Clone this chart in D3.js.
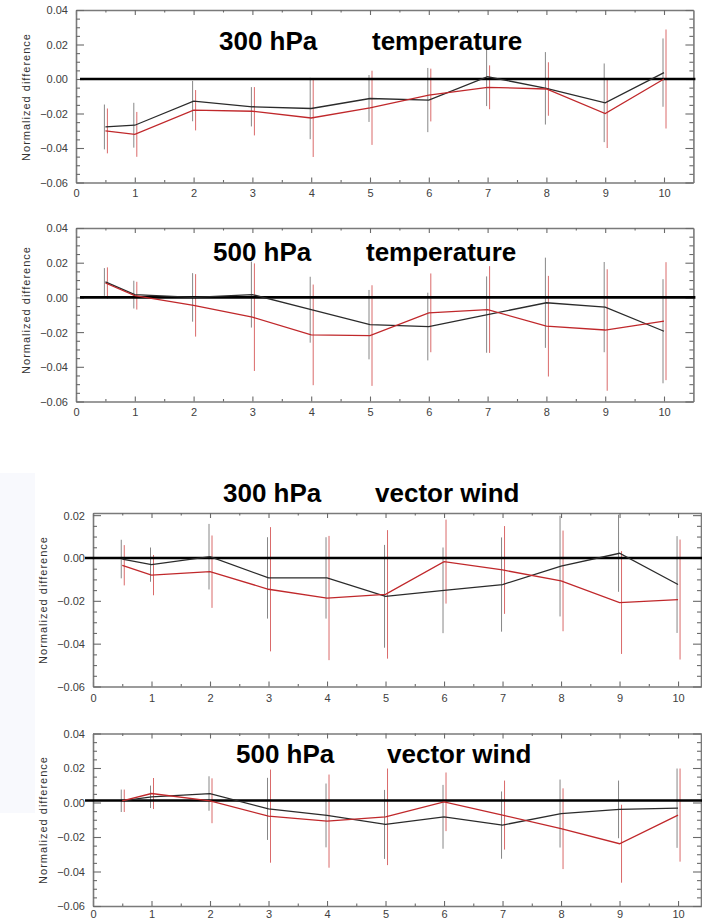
<!DOCTYPE html>
<html>
<head>
<meta charset="utf-8">
<script src="https://cdn.jsdelivr.net/npm/d3@7"></script>
<style>
  html, body { margin: 0; padding: 0; background: #fff; }
  svg { display: block; }
</style>
</head>
<body>
<svg id="chart" width="702" height="923"></svg>
<script>
// ---------------- DATA ----------------
const leadTimes = [0.5, 1, 2, 3, 4, 5, 6, 7, 8, 9, 10];
const xTickValues = [0, 1, 2, 3, 4, 5, 6, 7, 8, 9, 10];
const yLabel = "Normalized difference";
const levelTitles = ["300 hPa", "500 hPa", "300 hPa", "500 hPa"];
const variableTitles = ["temperature", "temperature", "vector wind", "vector wind"];

// 300 hPa temperature
const t300Black    = [-0.0278, -0.0268, -0.0128, -0.0161, -0.0171, -0.0113, -0.0122, 0.0013, -0.0054, -0.0138, 0.0037];
const t300Red      = [-0.0301, -0.0321, -0.0181, -0.0187, -0.0226, -0.0167, -0.0093, -0.0048, -0.0058, -0.0200, 0.0000];
const t300BlackErr = [0.0130, 0.0130, 0.0117, 0.0114, 0.0178, 0.0136, 0.0186, 0.0170, 0.0210, 0.0228, 0.0198];
const t300RedErr   = [0.0130, 0.0130, 0.0117, 0.0140, 0.0226, 0.0215, 0.0153, 0.0127, 0.0155, 0.0200, 0.0287];

// 500 hPa temperature
const t500Black    = [0.0089, 0.0016, 0.0000, 0.0016, -0.0071, -0.0157, -0.0168, -0.0099, -0.0031, -0.0056, -0.0195];
const t500Red      = [0.0083, 0.0010, -0.0046, -0.0114, -0.0216, -0.0220, -0.0089, -0.0070, -0.0166, -0.0188, -0.0137];
const t500BlackErr = [0.0080, 0.0080, 0.0140, 0.0190, 0.0190, 0.0200, 0.0195, 0.0220, 0.0260, 0.0260, 0.0300];
const t500RedErr   = [0.0090, 0.0080, 0.0180, 0.0310, 0.0290, 0.0290, 0.0227, 0.0250, 0.0290, 0.0350, 0.0340];

// 300 hPa vector wind
const w300Black    = [-0.0005, -0.0031, 0.0006, -0.0093, -0.0093, -0.0179, -0.0151, -0.0124, -0.0038, 0.0022, -0.0124];
const w300Red      = [-0.0034, -0.0080, -0.0064, -0.0146, -0.0187, -0.0170, -0.0017, -0.0056, -0.0107, -0.0208, -0.0194];
const w300BlackErr = [0.0090, 0.0080, 0.0153, 0.0190, 0.0190, 0.0240, 0.0200, 0.0220, 0.0235, 0.0180, 0.0226];
const w300RedErr   = [0.0094, 0.0094, 0.0169, 0.0290, 0.0290, 0.0300, 0.0196, 0.0205, 0.0235, 0.0240, 0.0280];

// 500 hPa vector wind
const w500Black    = [0.0010, 0.0033, 0.0052, -0.0037, -0.0075, -0.0127, -0.0083, -0.0131, -0.0064, -0.0040, -0.0033];
const w500Red      = [0.0010, 0.0052, 0.0010, -0.0079, -0.0108, -0.0083, 0.0004, -0.0073, -0.0152, -0.0239, -0.0073];
const w500BlackErr = [0.0065, 0.0065, 0.0100, 0.0180, 0.0185, 0.0200, 0.0185, 0.0195, 0.0197, 0.0167, 0.0230];
const w500RedErr   = [0.0065, 0.0090, 0.0130, 0.0270, 0.0270, 0.0280, 0.0170, 0.0200, 0.0234, 0.0226, 0.0270];

// ---------------- LAYOUT ----------------
const panels = [
  { black: t300Black, red: t300Red, bErr: t300BlackErr, rErr: t300RedErr,
    x0: 76, x1: 693.4, y0: 182.5, y1: 10, yMin: -0.06, yMax: 0.04,
    yTicks: [-0.06, -0.04, -0.02, 0, 0.02, 0.04], xPad: 7,
    levelPos: [219, 50], varPos: [372, 50], yLabelX: 30, yLabelY: 97 },
  { black: t500Black, red: t500Red, bErr: t500BlackErr, rErr: t500RedErr,
    x0: 76, x1: 693.4, y0: 401.5, y1: 228, yMin: -0.06, yMax: 0.04,
    yTicks: [-0.06, -0.04, -0.02, 0, 0.02, 0.04], xPad: 7,
    levelPos: [213, 261], varPos: [366, 261], yLabelX: 30, yLabelY: 310 },
  { black: w300Black, red: w300Red, bErr: w300BlackErr, rErr: w300RedErr,
    x0: 93, x1: 707.3, y0: 686.5, y1: 513, yMin: -0.06, yMax: 0.021,
    yTicks: [-0.06, -0.04, -0.02, 0, 0.02], xPad: 8,
    levelPos: [223, 502], varPos: [375, 502], yLabelX: 47, yLabelY: 600 },
  { black: w500Black, red: w500Red, bErr: w500BlackErr, rErr: w500RedErr,
    x0: 93, x1: 707.3, y0: 906, y1: 733.5, yMin: -0.06, yMax: 0.04,
    yTicks: [-0.06, -0.04, -0.02, 0, 0.02, 0.04], xPad: 4,
    levelPos: [236, 763], varPos: [387, 763], yLabelX: 47, yLabelY: 820 }
];

const svg = d3.select("#chart");
const FONT = "'Liberation Sans', Arial, Helvetica, sans-serif";

// faint background patch on the left of the lower panels
svg.append("rect").attr("x", 0).attr("y", 473).attr("width", 35).attr("height", 340)
  .attr("fill", "#f8f9fd");

panels.forEach((p, i) => {
  const x = d3.scaleLinear().domain([0, 10.5]).range([p.x0, p.x1]);
  const y = d3.scaleLinear().domain([p.yMin, p.yMax]).range([p.y0, p.y1]);
  const g = svg.append("g");
  const frameRight = Math.min(p.x1, 701);

  const xMinor = d3.range(0.5, 10.5, 1);
  const yMinor = d3.range(-0.06, p.yMax + 1e-9, 0.005).filter(v => Math.abs(Math.round(v / 0.02) * 0.02 - v) > 1e-6);

  const axisStyle = sel => {
    sel.selectAll("path.domain").attr("stroke", "#7a7a7a").attr("stroke-width", 1.6);
    sel.selectAll(".tick line").attr("stroke", "#6a6a6a").attr("stroke-width", 1.1);
    sel.selectAll(".tick text").attr("fill", "#404040").style("font-family", FONT).style("font-size", "11px");
  };

  // bottom axis
  g.append("g").attr("transform", `translate(0,${p.y0})`)
    .call(d3.axisBottom(x).tickValues(xTickValues).tickFormat(d3.format("d"))
      .tickSizeInner(-5).tickSizeOuter(0).tickPadding(p.xPad))
    .call(axisStyle);
  g.append("g").attr("transform", `translate(0,${p.y0})`)
    .call(d3.axisBottom(x).tickValues(xMinor).tickFormat("").tickSizeInner(-2.5).tickSizeOuter(0))
    .call(axisStyle).call(s => s.select("path.domain").remove());
  // top axis
  g.append("g").attr("transform", `translate(0,${p.y1})`)
    .call(d3.axisTop(x).tickValues(xTickValues).tickFormat("").tickSizeInner(-5).tickSizeOuter(0))
    .call(axisStyle);
  g.append("g").attr("transform", `translate(0,${p.y1})`)
    .call(d3.axisTop(x).tickValues(xMinor).tickFormat("").tickSizeInner(-2.5).tickSizeOuter(0))
    .call(axisStyle).call(s => s.select("path.domain").remove());

  // left axis
  g.append("g").attr("transform", `translate(${p.x0},0)`)
    .call(d3.axisLeft(y).tickValues(p.yTicks).tickFormat(d3.format(".2f"))
      .tickSizeInner(-8).tickSizeOuter(0).tickPadding(8))
    .call(axisStyle)
    .call(s => s.selectAll(".tick text").attr("dy", "0.36em"));
  g.append("g").attr("transform", `translate(${p.x0},0)`)
    .call(d3.axisLeft(y).tickValues(yMinor).tickFormat("").tickSizeInner(-4).tickSizeOuter(0))
    .call(axisStyle).call(s => s.select("path.domain").remove());
  // right axis
  g.append("g").attr("transform", `translate(${frameRight},0)`)
    .call(d3.axisRight(y).tickValues(p.yTicks).tickFormat("").tickSizeInner(-8).tickSizeOuter(0))
    .call(axisStyle);
  g.append("g").attr("transform", `translate(${frameRight},0)`)
    .call(d3.axisRight(y).tickValues(yMinor).tickFormat("").tickSizeInner(-4).tickSizeOuter(0))
    .call(axisStyle).call(s => s.select("path.domain").remove());

  // y label
  g.append("text")
    .attr("transform", `translate(${p.yLabelX},${p.yLabelY}) rotate(-90)`)
    .attr("text-anchor", "middle")
    .attr("fill", "#333")
    .style("font-family", FONT).style("font-size", "11px").style("letter-spacing", "1px")
    .text(yLabel);

  // error bars
  const series = [
    { vals: p.black, err: p.bErr, bar: "#727272", line: "#2b2b2b", dx: -1 },
    { vals: p.red, err: p.rErr, bar: "#d45050", line: "#c0282b", dx: 2 }
  ];
  series.forEach(s => {
    g.append("g").selectAll("line")
      .data(leadTimes.map((t, k) => ({ t, v: s.vals[k], e: s.err[k] })))
      .join("line")
      .attr("x1", d => x(d.t) + s.dx).attr("x2", d => x(d.t) + s.dx)
      .attr("y1", d => y(d.v - d.e)).attr("y2", d => y(d.v + d.e))
      .attr("stroke", s.bar).attr("stroke-width", 1).attr("stroke-opacity", 0.85);
  });

  // zero line
  g.append("line")
    .attr("x1", p.x0 + (i >= 2 ? -8 : 4)).attr("x2", frameRight + 2)
    .attr("y1", y(0) - (i === 3 ? 2 : 0)).attr("y2", y(0) - (i === 3 ? 2 : 0))
    .attr("stroke", "#000").attr("stroke-width", 2.6);

  // data lines
  series.forEach(s => {
    g.append("path")
      .datum(leadTimes.map((t, k) => [t, s.vals[k]]))
      .attr("fill", "none").attr("stroke", s.line).attr("stroke-width", 1.3)
      .attr("d", d3.line().x(d => x(d[0])).y(d => y(d[1])));
  });

  // titles
  g.append("text").attr("x", p.levelPos[0]).attr("y", p.levelPos[1])
    .style("font-family", FONT).style("font-weight", "bold").style("font-size", "26px")
    .attr("fill", "#000").text(levelTitles[i]);
  g.append("text").attr("x", p.varPos[0]).attr("y", p.varPos[1])
    .style("font-family", FONT).style("font-weight", "bold").style("font-size", "26px")
    .attr("fill", "#000").text(variableTitles[i]);
});
</script>
</body>
</html>
